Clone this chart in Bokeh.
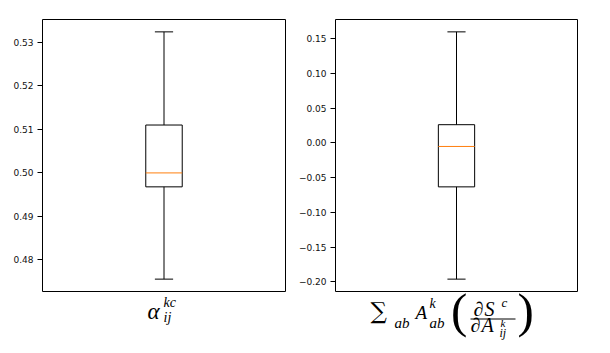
from bokeh.plotting import figure
from bokeh.layouts import row
from bokeh.models import Range1d, FixedTicker, ColumnDataSource
from bokeh.transform import dodge
from bokeh.embed import file_html
from bokeh.resources import INLINE

# ---- data ----
# five-number summaries: lower whisker, Q1, median, Q3, upper whisker
left_stats = [0.4756, 0.4968, 0.5000, 0.5110, 0.5324]
right_stats = [-0.1961, -0.0634, -0.0053, 0.0260, 0.1595]
box_position = [1.0]

left_ticks = [0.48, 0.49, 0.50, 0.51, 0.52, 0.53]
left_tick_labels = ["0.48", "0.49", "0.50", "0.51", "0.52", "0.53"]
right_ticks = [-0.20, -0.15, -0.10, -0.05, 0.00, 0.05, 0.10, 0.15]
right_tick_labels = ["\u22120.20", "\u22120.15", "\u22120.10", "\u22120.05",
                     "0.00", "0.05", "0.10", "0.15"]

# x-axis labels typeset from text pieces: page px of left edge and baseline
SERIF = "Liberation Serif"
left_label_text = ["\u03b1", "kc", "ij"]
left_label_x = [147, 163, 163]
left_label_base = [320, 308, 323]
left_label_size = [23, 14, 14]
left_label_style = ["italic", "italic", "italic"]
left_label_font = [SERIF, SERIF, SERIF]

right_label_text = ["\u2211", "ab", "A", "k", "ab", "(", "\u2202", "S", "c",
                    "\u2202", "A", "k", "ij", ")"]
right_label_x = [369, 393, 414, 428, 428, 449.5, 472, 483, 500,
                 469, 480, 499, 498, 516]
right_label_base = [320, 328, 320, 309, 328, 330, 316, 316, 307,
                    332, 332, 327, 337, 330]
right_label_size = [23, 15, 19, 14, 15, 49, 20, 20, 13,
                    20, 20, 11, 12, 49]
right_label_style = ["normal", "italic", "italic", "italic", "italic", "normal", "italic",
                     "italic", "italic", "italic", "italic", "italic", "italic", "normal"]
right_label_font = ["DejaVu Serif"] + [SERIF] * 13
frac_bar_x = [469, 514]
frac_bar_y = 318.5

BOX_W = 0.15
CAP_W = 0.075
FRAME_TOP = 19       # page px of the panel box top
BOX_H = 272          # panel box height in px
LABEL_H = 54         # room below the box for the typeset label
BASELINE_FIX = 0.4   # em shift between requested and drawn baseline


def make_panel(stats, ticks, tick_labels, box_left, box_w, fig_left, fig_right, label):
    lo, q1, med, q3, hi = stats
    pad = 0.05 * (hi - lo)
    ybot, ytop = lo - pad, hi + pad
    xs = 1.0 / box_w                 # data units per px
    ys = (ytop - ybot) / BOX_H
    p = figure(frame_width=box_w + 2, frame_height=BOX_H + LABEL_H + 1,
               min_border_left=box_left - 1 - fig_left,
               min_border_right=fig_right - (box_left + box_w + 1),
               min_border_top=FRAME_TOP - 1, min_border_bottom=0,
               x_range=Range1d(0.5 - xs, 1.5 + xs),
               y_range=Range1d(ybot - LABEL_H * ys, ytop + ys),
               output_backend="svg", toolbar_location=None, tools="")
    p.xaxis.visible = False
    p.grid.visible = False
    p.outline_line_color = None
    p.background_fill_color = "white"
    p.border_fill_color = "white"

    ax = p.yaxis[0]
    ax.ticker = FixedTicker(ticks=ticks)
    ax.major_label_overrides = dict(zip(ticks, tick_labels))
    ax.minor_tick_line_color = None
    ax.major_tick_in = 1
    ax.major_tick_out = 4
    ax.major_tick_line_color = "black"
    ax.axis_line_color = None
    ax.major_label_standoff = 4
    ax.major_label_text_font = "DejaVu Sans"
    ax.major_label_text_font_size = "9px"
    ax.major_label_text_color = "#111111"

    # axes box
    p.quad(left=[0.5], right=[1.5], bottom=[ybot], top=[ytop],
           fill_color=None, line_color="black", line_width=1)

    src = ColumnDataSource(dict(x=box_position, lo=[lo], q1=[q1], med=[med], q3=[q3], hi=[hi]))
    p.segment(x0="x", y0="q3", x1="x", y1="hi", source=src, line_color="black", line_width=1)
    p.segment(x0="x", y0="lo", x1="x", y1="q1", source=src, line_color="black", line_width=1)
    p.segment(x0=dodge("x", -CAP_W / 2), y0="hi", x1=dodge("x", CAP_W / 2), y1="hi",
              source=src, line_color="black", line_width=1)
    p.segment(x0=dodge("x", -CAP_W / 2), y0="lo", x1=dodge("x", CAP_W / 2), y1="lo",
              source=src, line_color="black", line_width=1)
    p.quad(left=dodge("x", -BOX_W / 2), right=dodge("x", BOX_W / 2), bottom="q1", top="q3",
           source=src, fill_color=None, line_color="black", line_width=1)
    p.segment(x0=dodge("x", -BOX_W / 2), y0="med", x1=dodge("x", BOX_W / 2), y1="med",
              source=src, line_color="#ff7f0e", line_width=1)

    # typeset axis label (page px -> data units of this panel)
    texts, lx, lb, lsz, lst, lf = label
    to_x = lambda px: 0.5 + (px - box_left) * xs
    to_y = lambda py: ytop - (py - FRAME_TOP) * ys
    lsrc = ColumnDataSource(dict(
        x=[to_x(v) for v in lx],
        y=[to_y(b - BASELINE_FIX * s) for b, s in zip(lb, lsz)],
        text=texts, size=[f"{s}px" for s in lsz], style=lst, font=lf))
    p.text(x="x", y="y", text="text", source=lsrc, text_font="font",
           text_font_size="size", text_font_style="style", text_color="black",
           text_align="left", text_baseline="alphabetic")
    return p, to_x, to_y


p1, _, _ = make_panel(left_stats, left_ticks, left_tick_labels, 42, 243, 0, 295,
                      (left_label_text, left_label_x, left_label_base, left_label_size,
                       left_label_style, left_label_font))
p2, tx2, ty2 = make_panel(right_stats, right_ticks, right_tick_labels, 334, 242, 295, 586,
                          (right_label_text, right_label_x, right_label_base, right_label_size,
                           right_label_style, right_label_font))
p2.line(x=[tx2(v) for v in frac_bar_x], y=[ty2(frac_bar_y)] * 2, line_color="black", line_width=1)

layout = row(p1, p2)
open("out.html", "w").write(file_html(layout, INLINE))
